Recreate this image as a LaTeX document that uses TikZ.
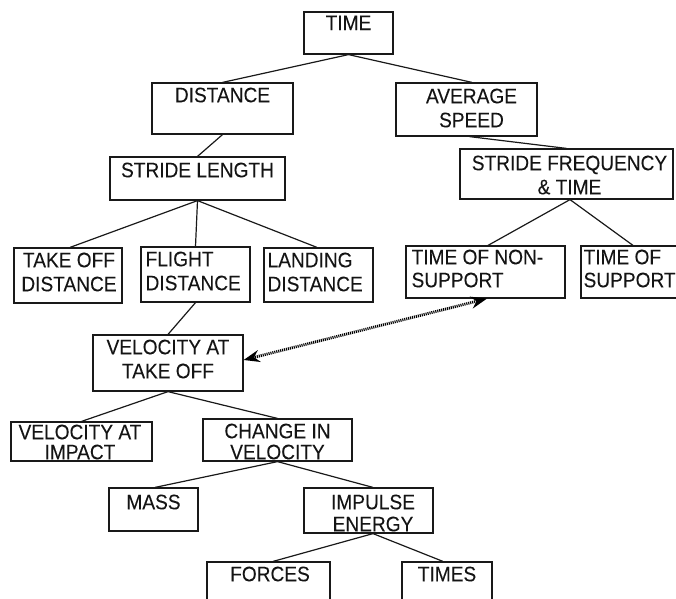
\documentclass[tikz,border=0pt]{standalone}
\usepackage{fontspec}
\setmainfont{Liberation Sans}[FakeStretch=0.91,FakeBold=0.05]
\usetikzlibrary{arrows.meta,calc}

\begin{document}
\begin{tikzpicture}[x=1pt,y=-1pt,
  ink/.style={draw=black!90, line width=1.2pt},
  box/.style={ink, rectangle, inner sep=0pt},
  txt/.style={inner sep=0pt, anchor=north, align=center,
              font=\fontsize{21}{24}\selectfont, text=black!92},
  tight/.style={font=\fontsize{21}{#1}\selectfont},
  ltxt/.style={txt, anchor=north west, align=left},
  link/.style={ink},
  dotarrow/.style={line width=2.8pt, dash pattern=on 1.1pt off 0.9pt, black,
                   {Stealth[length=16pt,width=12pt]}-{Stealth[length=16pt,width=12pt]}}
]
\path[use as bounding box] (0,0) rectangle (676,598);
\clip (0,0) rectangle (676,598);

% ---- boxes ----
\node[box, minimum width=89pt,  minimum height=42pt] (time)   at (348.5,33)  {};
\node[box, minimum width=141pt, minimum height=51pt] (dist)   at (222.5,108.5) {};
\node[box, minimum width=141pt, minimum height=53pt] (avg)    at (466.5,109.5) {};
\node[box, minimum width=175pt, minimum height=43pt] (stride) at (197.5,178.5) {};
\node[box, minimum width=213pt, minimum height=50pt] (sft)    at (566.5,174) {};
\node[box, minimum width=108pt, minimum height=55pt] (tod)    at (68,275.5) {};
\node[box, minimum width=109pt, minimum height=55pt] (fd)     at (195.5,274.5) {};
\node[box, minimum width=109pt, minimum height=54pt] (ld)     at (318.5,275) {};
\node[box, minimum width=159pt, minimum height=52pt] (tns)    at (485.5,272) {};
\node[box, minimum width=104pt, minimum height=52pt] (tsup)   at (633,272) {};
\node[box, minimum width=150pt, minimum height=56pt] (vato)   at (168,363) {};
\node[box, minimum width=141pt, minimum height=39pt] (vai)    at (81.5,441.5) {};
\node[box, minimum width=149pt, minimum height=42pt] (civ)    at (277.5,440) {};
\node[box, minimum width=89pt,  minimum height=43pt] (mass)   at (153.5,509.5) {};
\node[box, minimum width=129pt, minimum height=45pt] (imp)    at (368.5,510.5) {};
\node[box, minimum width=123pt, minimum height=45pt] (forces) at (268.5,584.5) {};
\node[box, minimum width=90pt,  minimum height=45pt] (times)  at (447,584.5) {};

% ---- labels ----
\node[txt] (time-l)   at ([yshift=-4pt]time.north)   {TIME};
\node[txt] (dist-l)   at ([yshift=-5pt]dist.north)   {DISTANCE};
\node[txt] (avg-l)    at ([xshift=5pt,yshift=-6pt]avg.north) {AVERAGE\\SPEED};
\node[txt] (stride-l) at ([yshift=-6pt]stride.north) {STRIDE LENGTH};
\node[txt] (sft-l)    at ([xshift=3pt,yshift=-7pt]sft.north) {STRIDE FREQUENCY\\\& TIME};
\node[txt] (tod-l)    at ([xshift=1pt,yshift=-5pt]tod.north) {TAKE OFF\\DISTANCE};
\node[ltxt] (fd-l)    at ([xshift=5pt,yshift=-5pt]fd.north west) {FLIGHT\\DISTANCE};
\node[ltxt] (ld-l)    at ([xshift=4pt,yshift=-5pt]ld.north west) {LANDING\\DISTANCE};
\node[ltxt, tight=23] (tns-l) at ([xshift=6pt,yshift=-4pt]tns.north west) {TIME OF NON-\\SUPPORT};
\node[ltxt, tight=23] (tsup-l) at ([xshift=3pt,yshift=-4pt]tsup.north west) {TIME OF\\SUPPORT};
\node[txt] (vato-l)   at ([yshift=-5pt]vato.north)   {VELOCITY AT\\TAKE OFF};
\node[txt, tight=20] (vai-l) at ([xshift=-1.5pt,yshift=-3pt]vai.north) {VELOCITY AT\\IMPACT};
\node[txt, tight=21] (civ-l) at ([yshift=-5pt]civ.north)    {CHANGE IN\\VELOCITY};
\node[txt] (mass-l)   at ([yshift=-7pt]mass.north)   {MASS};
\node[txt, tight=22] (imp-l) at ([xshift=4.5pt,yshift=-7pt]imp.north) {IMPULSE\\ENERGY};
\node[txt] (forces-l) at ([xshift=1.5pt,yshift=-5pt]forces.north) {FORCES};
\node[txt] (times-l)  at ([yshift=-5pt]times.north)  {TIMES};

% ---- tree links ----
\draw[link] (time.south) -- (dist.north);
\draw[link] (time.south) -- ([xshift=5.5pt]avg.north);
\draw[link] (dist.south) -- (stride.north);
\draw[link] ([xshift=3pt]avg.south) -- (sft.north);
\draw[link] (stride.south) -- ([xshift=2pt]tod.north);
\draw[link] (stride.south) -- (fd.north);
\draw[link] (stride.south) -- ([xshift=-1.5pt]ld.north);
\draw[link] ([xshift=3.5pt]sft.south) -- ([xshift=2.5pt]tns.north);
\draw[link] ([xshift=3.5pt]sft.south) -- (tsup.north);
\draw[link] (fd.south) -- (vato.north);
\draw[link] (vato.south) -- (vai.north);
\draw[link] (vato.south) -- (civ.north);
\draw[link] (civ.south) -- ([xshift=1.5pt]mass.north);
\draw[link] (civ.south) -- ([xshift=4.5pt]imp.north);
\draw[link] ([xshift=4.5pt]imp.south) -- ([xshift=4.5pt]forces.north);
\draw[link] ([xshift=4.5pt]imp.south) -- ([xshift=-4pt]times.north);

% ---- cross link ----
\draw[dotarrow] ([yshift=3pt]vato.east) -- ([xshift=1.5pt]tns.south);
\end{tikzpicture}
\end{document}
